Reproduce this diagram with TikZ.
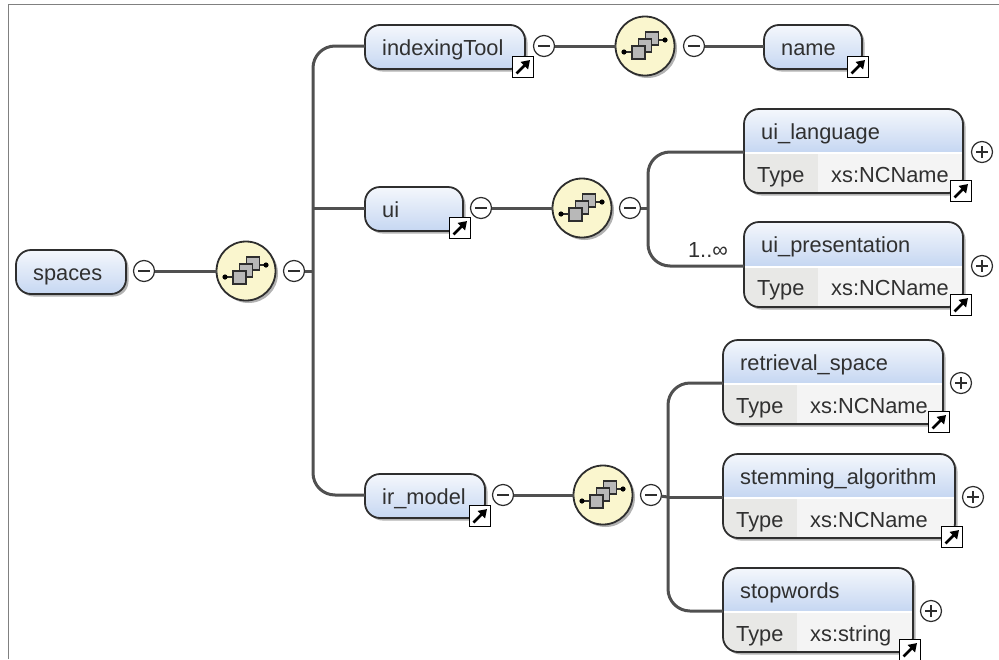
\documentclass[tikz,border=0pt]{standalone}
\usepackage{fontspec}
\setmainfont{Liberation Sans}
\usetikzlibrary{shadows,arrows.meta}
\definecolor{edgecol}{HTML}{2E2E2E}
\definecolor{conncol}{HTML}{505050}
\definecolor{hdtop}{HTML}{F4F7FC}
\definecolor{hdbot}{HTML}{C6D7F2}
\definecolor{bodycol}{HTML}{F4F4F4}
\definecolor{cellcol}{HTML}{E8E8E6}
\definecolor{compfill}{HTML}{FAF6CE}
\definecolor{txt}{HTML}{303030}
\tikzset{
  x=1pt,y=-1pt,
  softshadow/.style={drop shadow={shadow xshift=2.5pt,shadow yshift=-2.5pt,opacity=.3,fill=black}},
  outline/.style={draw=edgecol,line width=1.8pt,rounded corners=15pt,inner sep=0pt,outer sep=0pt},
  lbl/.style={anchor=base west,inner sep=0pt,font=\fontsize{21.8}{25}\selectfont,text=txt},
  btn/.style={circle,draw=edgecol,line width=1.2pt,fill=white,minimum size=21pt,inner sep=0pt,outer sep=0pt},
  sym/.style={draw=edgecol,line width=1.2pt},
  comp/.style={circle,draw=edgecol,line width=1.8pt,fill=compfill,minimum size=59pt,inner sep=0pt,outer sep=0pt,softshadow},
  sq/.style={draw=edgecol,line width=1.1pt,fill=black!28},
  linkbox/.style={rectangle,draw=black,line width=1.6pt,fill=white,minimum size=21pt,inner sep=0pt,outer sep=0pt},
  linkarrow/.style={draw=black,line width=2.6pt,-{Triangle[length=8pt,width=10pt]}},
  wire/.style={draw=conncol,line width=3pt},
  curvewire/.style={wire,rounded corners=22pt},
}
\newcommand{\linkicon}[3]{%
  \node[linkbox] (#1) at (#2,#3) {};
  \draw[linkarrow] ([shift={(-6.5pt,-6.5pt)}]#1.center) -- ([shift={(7pt,7pt)}]#1.center);
}
% name, x1, y1, x2, text, link x, link y
\newcommand{\pillnode}[7]{%
  \pgfmathsetmacro{\cxx}{(#2+#4)/2}
  \pgfmathsetmacro{\wdd}{#4-#2}
  \pgfmathsetmacro{\tx}{#2+17}
  \pgfmathsetmacro{\ty}{#3+30}
  \pgfmathsetmacro{\cyy}{#3+22}
  \node[outline,top color=hdtop,bottom color=hdbot,softshadow,minimum width=\wdd pt,minimum height=44pt] (#1) at (\cxx,\cyy) {};
  \coordinate (#1-in) at (#2,#3+21);
  \coordinate (#1-out) at (#4,#3+21);
  \node[lbl] (#1-t) at (\tx,\ty) {#5};
  \ifx&#6&\else\linkicon{#1-link}{#6}{#7}\fi
}
% name, x1, y1, x2, y2, split, divider, title, type
\newcommand{\typednode}[9]{%
  \pgfmathsetmacro{\cxx}{(#2+#4)/2}
  \pgfmathsetmacro{\cyy}{(#3+#5)/2}
  \pgfmathsetmacro{\wdd}{#4-#2}
  \pgfmathsetmacro{\hgg}{#5-#3}
  \pgfmathsetmacro{\tx}{#2+17}
  \pgfmathsetmacro{\ty}{#3+30}
  \pgfmathsetmacro{\ux}{#2+13}
  \pgfmathsetmacro{\uy}{#3+73}
  \pgfmathsetmacro{\vx}{#7+13}
  \node[outline,draw=none,fill=bodycol,softshadow,minimum width=\wdd pt,minimum height=\hgg pt] (#1-bg) at (\cxx,\cyy) {};
  \begin{scope}
    \clip[rounded corners=15pt] (#2,#3) rectangle (#4,#5);
    \fill[cellcol] (#2,#6) rectangle (#7,#5);
    \shade[top color=hdtop,bottom color=hdbot] (#2,#3) rectangle (#4,#6);
    \fill[white] (#2,#6) rectangle (#4,#6+2);
  \end{scope}
  \node[outline,minimum width=\wdd pt,minimum height=\hgg pt] (#1) at (\cxx,\cyy) {};
  \coordinate (#1-in) at (#2,#6);
  \node[lbl] (#1-t) at (\tx,\ty) {#8};
  \node[lbl] (#1-k) at (\ux,\uy) {Type};
  \node[lbl] (#1-v) at (\vx,\uy) {#9};
}
\newcommand{\minusbtn}[3]{%
  \node[btn] (#1) at (#2,#3) {};
  \draw[sym] ([xshift=-6pt]#1.center) -- ([xshift=6pt]#1.center);
}
\newcommand{\plusbtn}[3]{%
  \node[btn] (#1) at (#2,#3) {};
  \draw[sym] ([xshift=-6pt]#1.center) -- ([xshift=6pt]#1.center);
  \draw[sym] ([yshift=-6pt]#1.center) -- ([yshift=6pt]#1.center);
}
\newcommand{\compnode}[3]{%
  \node[comp] (#1) at (#2,#3) {};
  \draw[edgecol,line width=1.5pt] ([shift={(-21pt,-6pt)}]#1.center) -- ([shift={(-8pt,-6pt)}]#1.center);
  \draw[edgecol,line width=1.5pt] ([shift={(8pt,6pt)}]#1.center) -- ([shift={(20pt,6pt)}]#1.center);
  \fill[black] ([shift={(-21pt,-6pt)}]#1.center) circle (2.6pt);
  \fill[black] ([shift={(20pt,6pt)}]#1.center) circle (2.6pt);
  \filldraw[sq] ([shift={(0.5pt,1pt)}]#1.center) rectangle ([shift={(13.5pt,14pt)}]#1.center);
  \filldraw[sq] ([shift={(-6.5pt,-6pt)}]#1.center) rectangle ([shift={(6.5pt,7pt)}]#1.center);
  \filldraw[sq] ([shift={(-13pt,-13pt)}]#1.center) rectangle ([shift={(0pt,0pt)}]#1.center);
}
\begin{document}
\begin{tikzpicture}
\useasboundingbox (0,0) rectangle (999,659);
\fill[white] (0,0) rectangle (999,659);
\coordinate (fa) at (8,659);
\coordinate (fb) at (8,4);
\coordinate (fc) at (999,4);
\draw[black!50,line width=1pt] (fa) -- (fb) -- (fc);

% junctions
\coordinate (ja) at (313,46);
\coordinate (jb) at (313,208);
\coordinate (jc) at (313,271);
\coordinate (jd) at (313,495);
\coordinate (ua) at (648,152);
\coordinate (ub) at (648,208);
\coordinate (uc) at (648,266);
\coordinate (ra) at (668,383);
\coordinate (rb) at (668,497);
\coordinate (rc) at (668,611);

% nodes
\pillnode{spaces}{16}{250}{126}{spaces}{}{}
\minusbtn{m1}{144}{271}
\compnode{c1}{246}{271}
\minusbtn{m2}{294}{271}

\pillnode{indexingTool}{365}{25}{525}{indexingTool}{523}{67}
\minusbtn{m3}{544}{46}
\compnode{c2}{645}{46}
\minusbtn{m4}{694}{46}
\pillnode{name}{764}{25}{862}{name}{858}{67}

\pillnode{ui}{365}{187}{463}{ui}{460}{228}
\minusbtn{m5}{481}{208}
\compnode{c3}{582}{208}
\minusbtn{m6}{630}{208}

\pillnode{irmodel}{365}{474}{485}{ir\_model}{480}{516}
\minusbtn{m7}{503}{495}
\compnode{c4}{603}{495}
\minusbtn{m8}{651}{495}

\typednode{uilang}{744}{109}{963}{193}{152}{818}{ui\_language}{xs:NCName}
\plusbtn{p1}{982}{152}
\linkicon{uilang-link}{961}{191}
\typednode{uipres}{744}{222}{963}{307}{266}{818}{ui\_presentation}{xs:NCName}
\plusbtn{p2}{982}{266}
\linkicon{uipres-link}{961}{305}
\node[lbl,anchor=center] (occ) at (708,250) {1..∞};

\typednode{retr}{723}{340}{943}{424}{383}{797}{retrieval\_space}{xs:NCName}
\plusbtn{p3}{961}{383}
\linkicon{retr-link}{939}{422}
\typednode{stem}{723}{454}{955}{538}{497}{797}{stemming\_algorithm}{xs:NCName}
\plusbtn{p4}{973}{497}
\linkicon{stem-link}{952}{537}
\typednode{stop}{723}{568}{913}{652}{611}{797}{stopwords}{xs:string}
\plusbtn{p5}{931}{611}
\linkicon{stop-link}{910}{650}

% connectors
\draw[wire] (m1) -- (c1);
\draw[wire] (m2) -- (jc);
\draw[curvewire] (indexingTool-in) -- (ja) -- (jd) -- (irmodel-in);
\draw[wire] (jb) -- (ui-in);
\draw[wire] (m3) -- (c2);
\draw[wire] (m4) -- (name-in);
\draw[wire] (m5) -- (c3);
\draw[wire] (m6) -- (ub);
\draw[curvewire] (uilang-in) -- (ua) -- (uc) -- (uipres-in);
\draw[wire] (m7) -- (c4);
\draw[wire] (m8) -- (rb);
\draw[curvewire] (retr-in) -- (ra) -- (rc) -- (stop-in);
\draw[wire] (rb) -- (stem-in);
\end{tikzpicture}
\end{document}
